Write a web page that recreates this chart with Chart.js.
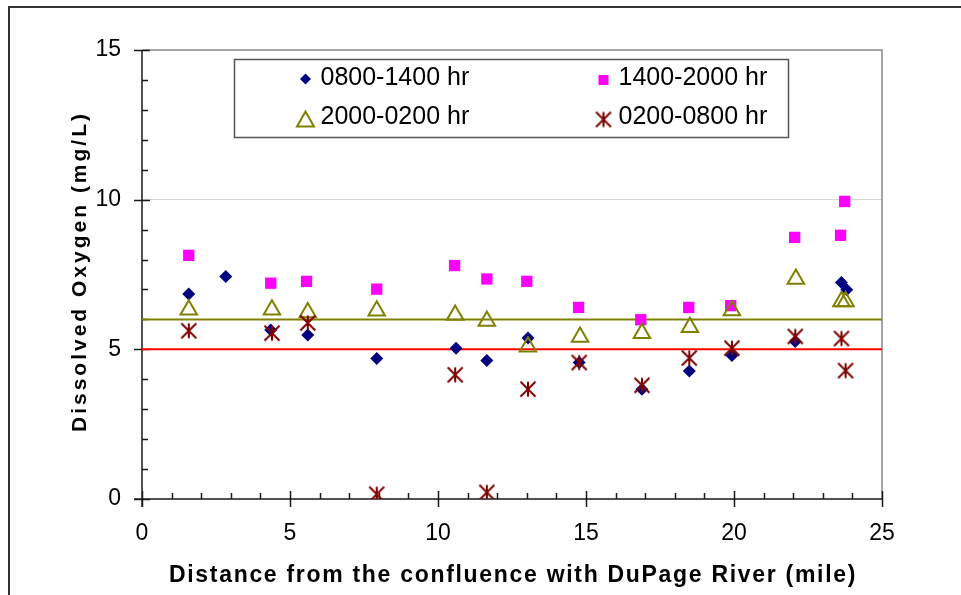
<!DOCTYPE html>
<html>
<head>
<meta charset="utf-8">
<title>Dissolved Oxygen vs Distance</title>
<script src="https://cdn.jsdelivr.net/npm/chart.js@4.4.1/dist/chart.umd.min.js"></script>
<style>
  html, body { margin: 0; padding: 0; background: #fff; }
</style>
</head>
<body>
<canvas id="doChart" width="961" height="595"></canvas>
<script>
// Sampling windows: distance (mile) and dissolved oxygen (mg/L)
const morningX = [1.58, 2.83, 4.35, 5.60, 7.93, 10.61, 11.65, 13.04, 14.77, 16.89, 18.49, 19.93, 22.07, 23.63, 23.81];
const morningDO = [6.85, 7.43, 5.65, 5.48, 4.69, 5.04, 4.63, 5.38, 4.56, 3.67, 4.28, 4.79, 5.26, 7.23, 6.99];

const afternoonX = [1.58, 4.35, 5.56, 7.93, 10.56, 11.65, 13.00, 14.75, 16.85, 18.47, 19.89, 22.05, 23.60, 23.74];
const afternoonDO = [8.14, 7.21, 7.27, 7.01, 7.80, 7.35, 7.27, 6.40, 5.99, 6.40, 6.46, 8.74, 8.81, 9.94];

const eveningX = [1.58, 4.39, 5.60, 7.93, 10.58, 11.65, 13.04, 14.80, 16.89, 18.51, 19.93, 22.09, 23.63, 23.77];
const eveningDO = [6.32, 6.32, 6.23, 6.29, 6.15, 5.95, 5.09, 5.41, 5.54, 5.74, 6.30, 7.35, 6.60, 6.60];

const nightX = [1.58, 4.39, 5.60, 7.93, 10.58, 11.65, 13.04, 14.77, 16.89, 18.49, 19.93, 22.07, 23.63, 23.77];
const nightDO = [5.62, 5.54, 5.88, 0.16, 4.15, 0.22, 3.67, 4.56, 3.80, 4.71, 5.04, 5.43, 5.36, 4.29];

const seriesLabels = ['0800-1400 hr', '1400-2000 hr', '2000-0200 hr', '0200-0800 hr'];

// reference levels (mg/L)
const doMinimum = 5;
const doTarget = 6;

const xTicks = [0, 5, 10, 15, 20, 25];
const yTicks = [0, 5, 10, 15];

const xTitle = 'Distance from the confluence with DuPage River (mile)';
const yTitle = 'Dissolved Oxygen (mg/L)';

const NAVY = '#000080', MAGENTA = '#ff00ff', OLIVE = '#808000', MAROON = '#800000';

const toPoints = (xs, ys) => xs.map((x, i) => ({ x, y: ys[i] }));
const xMin = xTicks[0], xMax = xTicks[xTicks.length - 1];

// six-armed asterisk marker
function makeStar(size) {
  const c = document.createElement('canvas');
  c.width = size; c.height = size;
  const g = c.getContext('2d');
  const m = 1.5;
  g.strokeStyle = MAROON;
  g.lineWidth = 2;
  g.beginPath();
  g.moveTo(size / 2, m); g.lineTo(size / 2, size - m);
  g.moveTo(m, m); g.lineTo(size - m, size - m);
  g.moveTo(size - m, m); g.lineTo(m, size - m);
  g.stroke();
  return c;
}
const starMark = makeStar(18);

// frame, plot border and tick marks
const framePlugin = {
  id: 'framePlugin',
  beforeDraw(chart) {
    const { ctx, width, height } = chart;
    ctx.save();
    ctx.strokeStyle = '#333';
    ctx.lineWidth = 2;
    ctx.beginPath();
    ctx.moveTo(9, height);
    ctx.lineTo(9, 7);
    ctx.lineTo(width, 7);
    ctx.stroke();
    ctx.restore();
  },
  beforeDatasetsDraw(chart) {
    const { ctx, chartArea: a, scales: { x, y } } = chart;
    ctx.save();
    ctx.strokeStyle = '#888';
    ctx.lineWidth = 1.5;
    ctx.beginPath();
    ctx.moveTo(a.left, a.top);
    ctx.lineTo(a.right, a.top);
    ctx.lineTo(a.right, a.bottom);
    ctx.stroke();

    ctx.strokeStyle = '#1a1a1a';
    ctx.lineWidth = 1.5;
    ctx.beginPath();
    for (let v = x.min; v <= x.max; v++) {
      const px = Math.round(x.getPixelForValue(v)) + 0.5;
      if (v % 5 === 0) { ctx.moveTo(px, a.bottom - 8); ctx.lineTo(px, a.bottom + 8); }
      else { ctx.moveTo(px, a.bottom - 6); ctx.lineTo(px, a.bottom); }
    }
    for (let v = y.min; v <= y.max; v++) {
      const py = Math.round(y.getPixelForValue(v)) + 0.5;
      if (v % 5 === 0) { ctx.moveTo(a.left - 8, py); ctx.lineTo(a.left + 8, py); }
      else { ctx.moveTo(a.left, py); ctx.lineTo(a.left + 6, py); }
    }
    ctx.moveTo(a.left, a.top); ctx.lineTo(a.left, a.bottom + 8);
    ctx.moveTo(a.left - 8, a.bottom); ctx.lineTo(a.right, a.bottom);
    ctx.stroke();
    ctx.restore();
  },
  afterDraw(chart) {
    const { ctx, chartArea: a } = chart;
    ctx.save();
    ctx.fillStyle = '#000';

    // axis titles
    ctx.font = 'bold 23px "Liberation Sans", Arial, sans-serif';
    ctx.letterSpacing = '1.7px';
    ctx.textAlign = 'center';
    ctx.textBaseline = 'alphabetic';
    ctx.fillText(xTitle, (a.left + a.right) / 2 + 1, a.bottom + 83);

    ctx.font = 'bold 21px "Liberation Sans", Arial, sans-serif';
    ctx.letterSpacing = '3px';
    ctx.translate(86, (a.top + a.bottom) / 2 - 3);
    ctx.rotate(-Math.PI / 2);
    ctx.fillText(yTitle, 0, 0);
    ctx.restore();

    drawLegend(ctx, a);
  }
};

function drawLegend(ctx, a) {
  const left = a.left + 92.5, top = 59.5, w = 554, h = 78;
  ctx.save();
  ctx.fillStyle = '#fff';
  ctx.fillRect(left, top, w, h);
  ctx.strokeStyle = '#555';
  ctx.lineWidth = 1.5;
  ctx.strokeRect(left, top, w, h);

  const cols = [left + 71, left + 369];
  const rows = [top + 18.5, top + 58];
  const spots = [[0, 0], [1, 0], [0, 1], [1, 1]];
  ctx.font = '25px "Liberation Sans", Arial, sans-serif';
  ctx.textBaseline = 'middle';
  ctx.textAlign = 'left';
  spots.forEach(([c, r], i) => {
    const mx = cols[c], my = rows[r];
    ctx.beginPath();
    if (i === 0) {
      ctx.fillStyle = NAVY;
      ctx.moveTo(mx - 5.5, my + 1); ctx.lineTo(mx, my - 4.5); ctx.lineTo(mx + 5.5, my + 1); ctx.lineTo(mx, my + 6.5);
      ctx.closePath(); ctx.fill();
    } else if (i === 1) {
      ctx.fillStyle = MAGENTA;
      ctx.fillRect(mx - 5, my - 3, 10, 10);
    } else if (i === 2) {
      ctx.strokeStyle = OLIVE; ctx.lineWidth = 2;
      ctx.moveTo(mx, my - 6); ctx.lineTo(mx + 8.5, my + 9); ctx.lineTo(mx - 8.5, my + 9);
      ctx.closePath(); ctx.stroke();
    } else {
      ctx.drawImage(starMark, mx - 9, my - 7);
    }
    ctx.fillStyle = '#000';
    ctx.fillText(seriesLabels[i], mx + 15, my);
  });
  ctx.restore();
}

const tickFont = { family: '"Liberation Sans", Arial, sans-serif', size: 23 };

new Chart(document.getElementById('doChart'), {
  type: 'scatter',
  data: {
    datasets: [
      {
        label: seriesLabels[0], order: 4,
        data: toPoints(morningX, morningDO),
        pointStyle: 'rectRot', pointRadius: 6.5,
        backgroundColor: NAVY, borderColor: NAVY, borderWidth: 0
      },
      {
        label: seriesLabels[1], order: 3,
        data: toPoints(afternoonX, afternoonDO),
        pointStyle: 'rect', pointRadius: 8,
        backgroundColor: MAGENTA, borderColor: MAGENTA, borderWidth: 0
      },
      {
        label: seriesLabels[2], order: 2,
        data: toPoints(eveningX, eveningDO),
        pointStyle: 'triangle', pointRadius: 9.5,
        backgroundColor: 'rgba(0,0,0,0)', borderColor: OLIVE, borderWidth: 2
      },
      {
        label: seriesLabels[3], order: 1,
        data: toPoints(nightX, nightDO),
        pointStyle: starMark, pointRadius: 9
      },
      {
        type: 'line', label: 'target', order: 5,
        data: [{ x: xMin, y: doTarget }, { x: xMax, y: doTarget }],
        borderColor: OLIVE, borderWidth: 2, pointRadius: 0
      },
      {
        type: 'line', label: 'minimum', order: 5,
        data: [{ x: xMin, y: doMinimum }, { x: xMax, y: doMinimum }],
        borderColor: '#ff0000', borderWidth: 2, pointRadius: 0
      }
    ]
  },
  options: {
    responsive: false,
    animation: false,
    events: [],
    layout: { padding: { top: 50, right: 79, left: 0, bottom: 0 } },
    plugins: { legend: { display: false }, tooltip: { enabled: false } },
    scales: {
      x: {
        type: 'linear', min: xMin, max: xMax,
        afterBuildTicks: s => { s.ticks = xTicks.map(v => ({ value: v })); },
        afterFit: s => { s.height = 96; },
        grid: { display: false, drawTicks: false },
        border: { display: false },
        ticks: { color: '#000', font: tickFont, padding: 21, maxRotation: 0 }
      },
      y: {
        type: 'linear', min: yTicks[0], max: yTicks[yTicks.length - 1],
        afterBuildTicks: s => { s.ticks = yTicks.map(v => ({ value: v })); },
        afterFit: s => { s.width = 142; },
        grid: {
          drawTicks: false,
          color: c => (c.tick && c.tick.value === 10 ? '#d4d4d4' : 'rgba(0,0,0,0)'),
          lineWidth: 1
        },
        border: { display: false },
        ticks: { color: '#000', font: tickFont, padding: 21 }
      }
    }
  },
  plugins: [framePlugin]
});
</script>
</body>
</html>
